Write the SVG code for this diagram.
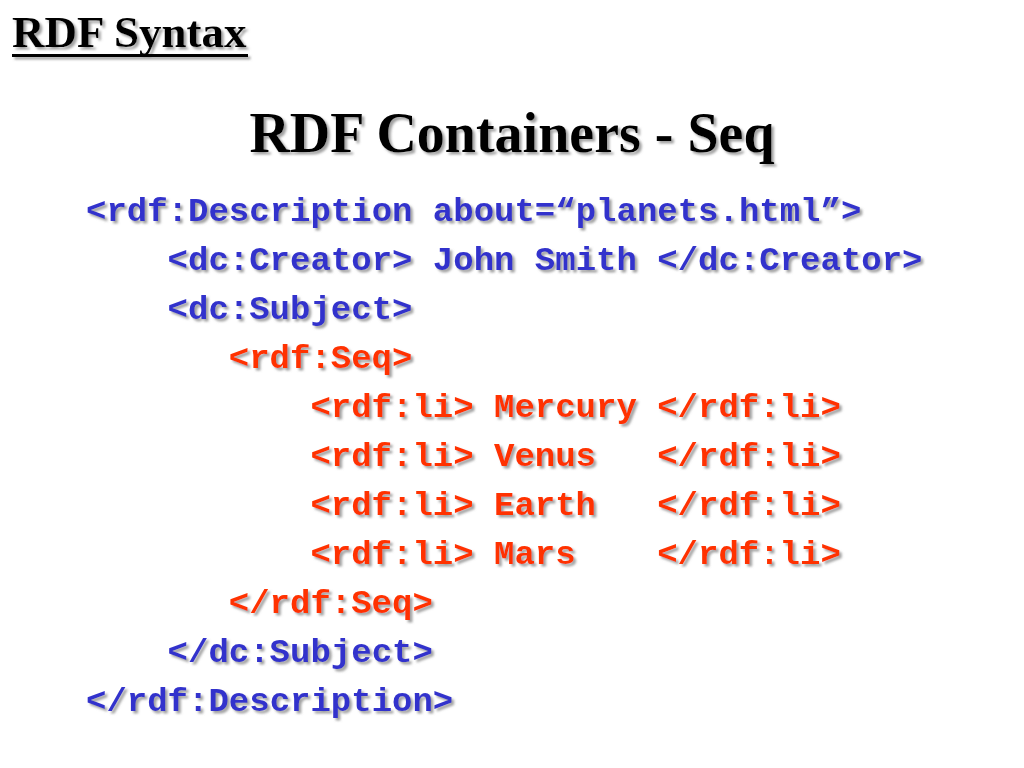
<svg xmlns="http://www.w3.org/2000/svg" width="1024" height="768" viewBox="0 0 1024 768">
<defs>
<filter id="sh" x="-5%" y="-20%" width="110%" height="150%">
<feDropShadow dx="2.5" dy="2.5" stdDeviation="1" flood-color="#8a8a8a" flood-opacity="0.8"/>
</filter>
</defs>
<style>
.hd{font-family:"Liberation Serif","Times New Roman",serif;font-weight:bold;fill:#000}
.code{font-family:"Liberation Mono","Courier New",monospace;font-weight:bold;font-size:34px}
.b{fill:#3333CC}
.r{fill:#FF3300}
</style>
<rect width="1024" height="768" fill="#ffffff"/>
<g id="header" filter="url(#sh)">
<text class="hd" x="12" y="47" font-size="45">RDF Syntax</text>
<rect x="12" y="54" width="236" height="3" fill="#000"/>
</g>
<g id="title" filter="url(#sh)">
<text class="hd" x="512" y="152" font-size="56" text-anchor="middle">RDF Containers - Seq</text>
</g>
<g id="code" class="code" filter="url(#sh)">
<g id="line1"><text class="b" x="86" y="221">&lt;rdf:Description about=“planets.html”&gt;</text></g>
<g id="line2"><text class="b" x="167.6" y="270">&lt;dc:Creator&gt; John Smith &lt;/dc:Creator&gt;</text></g>
<g id="line3"><text class="b" x="167.6" y="319">&lt;dc:Subject&gt;</text></g>
<g id="line4"><text class="r" x="228.8" y="368">&lt;rdf:Seq&gt;</text></g>
<g id="line5"><text class="r" y="417"><tspan x="310.4">&lt;rdf:li&gt;</tspan><tspan x="494">Mercury</tspan><tspan x="657.2">&lt;/rdf:li&gt;</tspan></text></g>
<g id="line6"><text class="r" y="466"><tspan x="310.4">&lt;rdf:li&gt;</tspan><tspan x="494">Venus</tspan><tspan x="657.2">&lt;/rdf:li&gt;</tspan></text></g>
<g id="line7"><text class="r" y="515"><tspan x="310.4">&lt;rdf:li&gt;</tspan><tspan x="494">Earth</tspan><tspan x="657.2">&lt;/rdf:li&gt;</tspan></text></g>
<g id="line8"><text class="r" y="564"><tspan x="310.4">&lt;rdf:li&gt;</tspan><tspan x="494">Mars</tspan><tspan x="657.2">&lt;/rdf:li&gt;</tspan></text></g>
<g id="line9"><text class="r" x="228.8" y="613">&lt;/rdf:Seq&gt;</text></g>
<g id="line10"><text class="b" x="167.6" y="662">&lt;/dc:Subject&gt;</text></g>
<g id="line11"><text class="b" x="86" y="711">&lt;/rdf:Description&gt;</text></g>
</g>
</svg>
